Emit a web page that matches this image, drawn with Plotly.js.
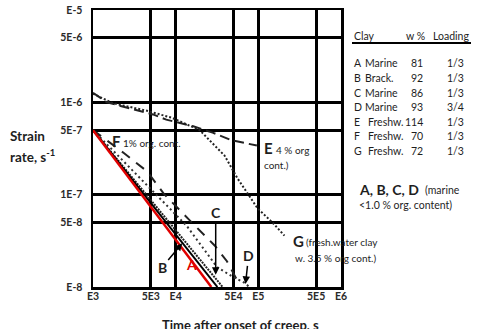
<!DOCTYPE html>
<html>
<head>
<meta charset="utf-8">
<script src="https://cdn.plot.ly/plotly-3.0.1.min.js"></script>
<style>html,body{margin:0;padding:0;background:#fff;}#chart{width:478px;height:329px;}</style>
</head>
<body>
<div id="chart"></div>
<script>
// ---- data (time in s, strain rate in 1/s) ----
const xA = [1e3, 2.7e4];
const yA = [5e-7, 1e-8];
const xB = [1e3, 3.2e4];
const yB = [5e-7, 1e-8];
const xC = [1e3, 3.7e4];
const yC = [5e-7, 1e-8];
const xD = [1e3, 1.36e4, 3.17e4, 4.84e4, 6.8e4, 7.8e4];
const yD = [5e-7, 4.6e-8, 1.64e-8, 1.3e-8, 1.11e-8, 1e-8];
const xE = [1e3, 1.47e3, 5.3e3, 7.7e3, 1.63e4, 2.8e4, 4.7e4, 9.6e4];
const yE = [1.27e-6, 1e-6, 7.4e-7, 6.5e-7, 5.5e-7, 4.7e-7, 3.9e-7, 3.4e-7];
const xF = [1e3, 2.38e3, 4.54e3, 7.2e3, 1.44e4, 2.98e4, 4.17e4, 5.5e4];
const yF = [5e-7, 2.81e-7, 1.78e-7, 1.02e-7, 5.4e-8, 2.8e-8, 1.9e-8, 1.2e-8];
const xG = [1e3, 1.73e3, 4.5e3, 9e3, 1.95e4, 3.9e4, 5.6e4, 7e4, 9.8e4, 1.48e5, 2.07e5];
const yG = [1.24e-6, 9.8e-7, 8.1e-7, 6.8e-7, 5e-7, 2.65e-7, 1.5e-7, 1.12e-7, 7.1e-8, 5e-8, 3.6e-8];

const xTickVals = [1e3, 5e3, 1e4, 5e4, 1e5, 5e5, 1e6];
const xTickText = ['E3', '5E3', 'E4', '5E4', 'E5', '5E5', 'E6'];
const yTickVals = [1e-8, 5e-8, 1e-7, 5e-7, 1e-6, 5e-6, 1e-5];
const yTickText = ['E-8', '5E-8', '1E-7', '5E-7', '1E-6', '5E-6', 'E-5'];

const tblLetters = ['A', 'B', 'C', 'D', 'E', 'F', 'G'];
const tblClay = ['Marine', 'Brack.', 'Marine', 'Marine', 'Freshw.', 'Freshw.', 'Freshw.'];
const tblW = ['81', '92', '86', '93', '114', '70', '72'];
const tblLoad = ['1/3', '1/3', '1/3', '3/4', '1/3', '1/3', '1/3'];

// ---- layout helpers ----
const W = 478, H = 329, L = 93, R = 137, T = 10, B = 42;
const PW = W - L - R, PH = H - T - B;
const px = v => (v - L) / PW;
const py = v => (H - B - v) / PH;
const FONT = 'Lato, "Open Sans", sans-serif';
const TXT = '#1e1e1e';

function line(x, y, color, width, dash) {
  return {x: x, y: y, type: 'scatter', mode: 'lines', hoverinfo: 'skip',
          line: {color: color, width: width, dash: dash}};
}
const traces = [
  line(xG, yG, '#222', 2, '2px,2px'),
  line(xE, yE, '#222', 2, '10px,5px'),
  line(xF, yF, '#222', 2, '10px,8px'),
  line(xD, yD, '#333', 2, '2px,3px'),
  line(xC, yC, '#222', 2, '2px,1px'),
  line(xB, yB, '#000', 2, 'solid'),
  line(xA, yA, '#e00000', 2.5, 'solid')
];

const ann = [];
function txt(x, y, text, size, opts) {
  ann.push(Object.assign({xref: 'paper', yref: 'paper', x: px(x), y: py(y), text: text,
    showarrow: false, xanchor: 'left', yanchor: 'middle',
    font: {family: FONT, size: size, color: TXT}}, opts || {}));
}
// table
txt(352, 36, 'Clay', 10.5);
txt(404, 36, 'w %', 10.5);
txt(431, 36, 'Loading', 10.5);
const rowY = [63, 78, 93, 107, 122, 136, 151];
for (let i = 0; i < tblLetters.length; i++) {
  txt(352, rowY[i], tblLetters[i], 10.5);
  txt(i >= 4 ? 366 : 363, rowY[i], tblClay[i], 10.5);
  txt(425, rowY[i], tblW[i], 10.5, {xanchor: 'right'});
  txt(466, rowY[i], tblLoad[i], 10.5, {xanchor: 'right'});
}
// curve labels
txt(110, 141, '<b>F</b>', 15);
txt(121, 143, '1% org. cont.', 10);
txt(262, 148, '<b>E</b>', 15);
txt(274, 150, '4 % org', 10);
txt(262, 165, 'cont.)', 10);
txt(291, 241, '<b>G</b>', 15);
txt(304, 242, '(fresh.water clay', 10);
txt(293, 258, 'w. 3.5 % org cont.)', 10);
txt(357, 189, '<b>A, B, C, D</b>', 14);
txt(423, 190, '(marine', 10.5);
txt(357, 205, '&lt;1.0 % org. content)', 10.5);
txt(184, 264, '<b>A</b>', 14, {font: {family: FONT, size: 14, color: '#e00000'}});
// axis titles
txt(8, 136, '<b>Strain</b>', 13.5);
txt(8, 156, '<b>rate, s<sup>-1</sup></b>', 13.5);
txt(160, 325, '<b>Time after onset of creep, s</b>', 13);

// arrows (data coords, log10 for log axes)
function arrowLab(text, x, y, ax, ay) {
  ann.push({xref: 'x', yref: 'y', x: Math.log10(x), y: Math.log10(y), text: '<b>' + text + '</b>',
    showarrow: true, arrowhead: 2, arrowsize: 1, arrowwidth: 1.5, arrowcolor: '#000',
    ax: ax, ay: ay, font: {family: FONT, size: 14, color: TXT}});
}
arrowLab('C', 3.05e4, 1.36e-8, 0, -62);
arrowLab('D', 7e4, 1.08e-8, 3, -28);
arrowLab('B', 1.2e4, 2.98e-8, -20, 24);

const axisCommon = {
  type: 'log', showgrid: true, gridcolor: 'rgb(0,0,0)', gridwidth: 3,
  showline: true, linecolor: '#000', linewidth: 2.5, mirror: true,
  ticks: '', zeroline: false, fixedrange: true,
  tickfont: {family: FONT, size: 10.5, color: '#2a2a2a', weight: 'bold'}
};
const layout = {
  width: W, height: H,
  margin: {l: L, r: R, t: T, b: B, pad: 0},
  paper_bgcolor: '#fff', plot_bgcolor: '#fff',
  showlegend: false,
  xaxis: Object.assign({}, axisCommon, {range: [3, 6], tickmode: 'array',
    tickvals: xTickVals, ticktext: xTickText, ticklabelstandoff: -2}),
  yaxis: Object.assign({}, axisCommon, {range: [-8, -5], tickmode: 'array',
    tickvals: yTickVals, ticktext: yTickText, ticklabelstandoff: 6}),
  annotations: ann,
  shapes: [{type: 'line', xref: 'paper', yref: 'paper', x0: px(352), x1: px(471),
    y0: py(43), y1: py(43), line: {color: '#000', width: 2}}]
};
Plotly.newPlot('chart', traces, layout, {displayModeBar: false, staticPlot: true});
</script>
</body>
</html>
